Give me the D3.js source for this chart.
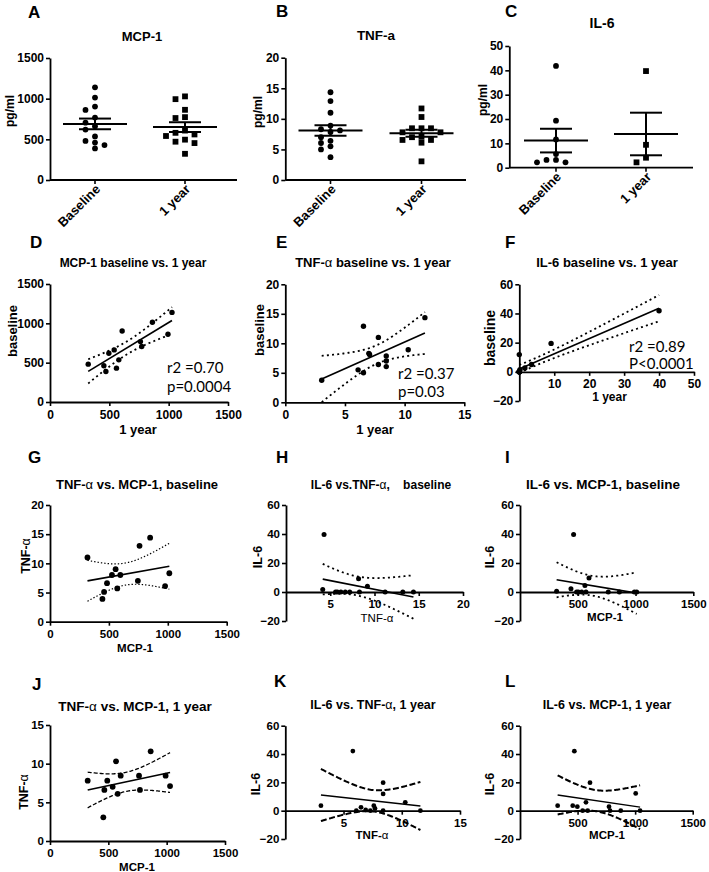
<!DOCTYPE html>
<html><head><meta charset="utf-8">
<script src="https://cdn.jsdelivr.net/npm/d3@7"></script>
<style>
body{margin:0;background:#fff}
text{font-family:"Liberation Sans",Arial,sans-serif;fill:#000}
</style>
</head><body>
<svg id="c" width="709" height="872"></svg>
<script>
// ---------------- DATA ----------------
const categories = ["Baseline", "1 year"];
const dotTitles = ["MCP-1", "TNF-a", "IL-6"];
// paired MCP-1 values (A, D)
const mcp1Baseline = [481, 460, 388, 620, 662, 536, 430, 903, 768, 705, 1013, 861, 1139];
const mcp1Year     = [322, 454, 471, 496, 541, 580, 560, 608, 762, 773, 863, 994, 1028];
// paired TNF-α values (B, E)
const tnfBaseline = [3.73, 5.5, 5.0, 12.9, 8.1, 8.3, 11.0, 6.4, 7.85, 7.0, 6.05, 8.9, 14.35];
const tnfYear     = [3.05, 6.1, 6.55, 6.55, 7.06, 7.0, 7.8, 7.8, 8.46, 8.46, 8.46, 10.3, 11.7];
// IL-6 detectable values (C)
const il6Baseline = [41.8, 19.3, 11.6, 5.6, 2.2, 3.2, 2.2, 3.2];
const il6Year     = [39.7, 9.4, 4.1, 2.2];
// F: IL-6 baseline vs 1 year
const fYear = [40, 9.1, 3.5, 1.6, 0.2, 0, 0, 0, 0, 0, 0, 0, 0];
const fBase = [41.9, 19.5, 5.0, 2.7, 1.5, 11.8, 0, 0, 0, 0, 0, 0, 0];
// G: TNF-α vs MCP-1, baseline
const gMcp = [318, 445, 459, 484, 526, 557, 571, 597, 746, 760, 850, 977, 1013];
const gTnf = [11, 3.9, 5.1, 6.6, 8, 9, 5.7, 8, 7, 13, 14.4, 6.1, 8.3];
// H: IL-6 vs TNF-α, baseline
const hTnf = [4.15, 4.3, 5.6, 5.8, 6.2, 6.7, 7.2, 8.2, 8.3, 9.2, 11.2, 13.2, 14.4];
const hIl6 = [1.8, 39.7, 0, 0, 0, 0, 0, 9.2, 0, 3.9, 0, 0, 0];
// I: IL-6 vs MCP-1, baseline
const iMcp = [317, 441, 464, 490, 505, 534, 562, 571, 597, 764, 860, 990, 1010];
const iIl6 = [0.5, 2.3, 39.7, 0, 0, 0, 4.4, 0, 9.7, 0, 0, 0, 0];
// J: TNF-α vs MCP-1, 1 year
const jMcp = [323, 457, 466, 491, 537, 566, 580, 606, 763, 771, 863, 991, 1029];
const jTnf = [7.8, 3.06, 6.6, 7.8, 7.0, 10.3, 6.1, 8.45, 8.45, 6.6, 11.6, 8.45, 7.1];
// K: IL-6 vs TNF-α, 1 year
const kTnf = [3.06, 5.8, 6.1, 6.5, 6.9, 7.3, 7.6, 7.7, 8.4, 8.4, 8.4, 10.3, 11.6];
const kIl6 = [3.5, 42.1, 0, 2.4, 0.5, 0, 3.5, 1.6, 19.8, 11.8, 0, 5.9, 0];
// L: IL-6 vs MCP-1, 1 year
const lMcp = [327, 458, 472, 498, 544, 573, 588, 608, 773, 782, 875, 1005, 1043];
const lIl6 = [3.5, 3.5, 42, 2.8, 0, 5.9, 0, 19.8, 2.8, 0, 0, 12.2, 0];
// statistics annotations
const statsD = ["r2 =0.70", "p=0.0004"];
const statsE = ["r2 =0.37", "p=0.03"];
const statsF = ["r2 =0.89", "P<0.0001"];

// ---------------- HELPERS ----------------
const svg = d3.select("#c");
const tTable = {4:2.776,5:2.571,6:2.447,7:2.365,8:2.306,9:2.262,10:2.228,11:2.201,12:2.179,13:2.160};
const fmt = d3.format("d");

function addText(g, str, x, y, o) {
  const t = g.append("text").attr("x", x).attr("y", y)
    .attr("font-size", o.size).attr("font-weight", o.weight || "bold")
    .attr("text-anchor", o.anchor || "middle");
  if (o.family) t.style("font-family", o.family);
  if (o.rotate) t.attr("transform", `rotate(${o.rotate},${x},${y})`);
  if (o.dy) t.attr("dy", o.dy);
  t.style("white-space", "pre");
  str.split(/(α)/).forEach(p => {
    if (!p) return;
    const ts = t.append("tspan").text(p);
    if (p === "α") ts.attr("font-weight", "normal");
  });
  return t;
}

function styleAxis(a, size) {
  a.select(".domain").attr("stroke-width", 1.8);
  a.selectAll(".tick line").attr("stroke-width", 1.6);
  a.selectAll("text").attr("font-size", size).attr("font-weight", "bold")
    .style("font-family", '"Liberation Sans",Arial,sans-serif');
}

function yAxis(g, y, x0, ticks, size) {
  const a = g.append("g").attr("transform", `translate(${x0},0)`)
    .call(d3.axisLeft(y).tickValues(ticks).tickFormat(fmt).tickSize(4).tickPadding(2).tickSizeOuter(0));
  styleAxis(a, size);
}

function swarm(values, y, sep) {
  const pts = values.map(v => ({v, y: y(v)})).sort((a, b) => b.v - a.v);
  const placed = [];
  const cands = [0];
  for (let k = 1; k < 12; k++) cands.push(-k * sep / 2, k * sep / 2);
  pts.forEach(p => {
    for (const dx of cands) {
      if (placed.every(q => Math.abs(q.dx - dx) >= sep - 0.5 || Math.abs(q.y - p.y) >= 5.5)) { p.dx = dx; break; }
    }
    placed.push(p);
  });
  return pts;
}

function fit(xs, ys) {
  const n = xs.length, mx = d3.mean(xs), my = d3.mean(ys);
  let sxx = 0, sxy = 0;
  xs.forEach((x, i) => { sxx += (x - mx) ** 2; sxy += (x - mx) * (ys[i] - my); });
  const b = sxy / sxx, a = my - b * mx;
  let sse = 0;
  xs.forEach((x, i) => { sse += (ys[i] - a - b * x) ** 2; });
  const s = Math.sqrt(sse / (n - 2)), t = tTable[n - 2] || 2.2;
  return {a, b, band: x => t * s * Math.sqrt(1 / n + (x - mx) ** 2 / sxx)};
}

// ---------------- DOT PLOTS (A-C) ----------------
function dotPanel(c) {
  const g = svg.append("g");
  const y = d3.scaleLinear().domain(c.yDomain).range(c.yRange);
  const x = d3.scalePoint().domain(categories).range(c.catRange).padding(0.5);
  yAxis(g, y, c.x0, c.yTicks, 12);
  g.append("line").attr("x1", c.x0).attr("x2", c.x1).attr("y1", y(0)).attr("y2", y(0))
    .attr("stroke", "#000").attr("stroke-width", 1.8);
  categories.forEach(cat => {
    g.append("line").attr("x1", x(cat)).attr("x2", x(cat)).attr("y1", y(0)).attr("y2", y(0) + 4)
      .attr("stroke", "#000").attr("stroke-width", 1.6);
    addText(g, cat, x(cat) + 6, y(0) + 10, {size: 13, anchor: "end", rotate: -45});
  });
  [c.base, c.year].forEach((vals, i) => {
    const cx = x(categories[i]);
    const pts = swarm(vals, y, 9.5);
    if (i === 0) {
      g.selectAll(null).data(pts).enter().append("circle")
        .attr("cx", d => cx + d.dx).attr("cy", d => d.y).attr("r", 2.9).attr("fill", "#000");
    } else {
      g.selectAll(null).data(pts).enter().append("rect")
        .attr("x", d => cx + d.dx - 2.9).attr("y", d => d.y - 2.9).attr("width", 5.8).attr("height", 5.8).attr("fill", "#000");
    }
    const m = d3.mean(vals), sem = d3.deviation(vals) / Math.sqrt(vals.length);
    const ln = (x1, y1, x2, y2) => g.append("line").attr("x1", x1).attr("y1", y1).attr("x2", x2).attr("y2", y2)
      .attr("stroke", "#000").attr("stroke-width", 2);
    ln(cx - 32, y(m), cx + 32, y(m));
    ln(cx, y(m - sem), cx, y(m + sem));
    ln(cx - 16, y(m - sem), cx + 16, y(m - sem));
    ln(cx - 16, y(m + sem), cx + 16, y(m + sem));
  });
  addText(g, c.title, c.titlePos[0], c.titlePos[1], {size: c.titleSize});
  addText(g, c.label, c.labelPos[0], c.labelPos[1], {size: 17, anchor: "start"});
  addText(g, "pg/ml", c.yLabPos[0], c.yLabPos[1], {size: 12, rotate: -90, dy: "0.35em"});
}

dotPanel({label: "A", labelPos: [28, 18], title: dotTitles[0], titlePos: [142, 41], titleSize: 13,
  base: mcp1Baseline, year: mcp1Year, yDomain: [0, 1500], yRange: [180, 58], yTicks: [0, 500, 1000, 1500],
  x0: 50, x1: 237, catRange: [50, 230], yLabPos: [10, 111]});
dotPanel({label: "B", labelPos: [276, 17], title: dotTitles[1], titlePos: [376, 40], titleSize: 13.5,
  base: tnfBaseline, year: tnfYear, yDomain: [0, 20], yRange: [180, 57.7], yTicks: [0, 5, 10, 15, 20],
  x0: 285.3, x1: 466, catRange: [285, 467], yLabPos: [258, 112]});
dotPanel({label: "C", labelPos: [505, 17], title: dotTitles[2], titlePos: [602, 28], titleSize: 14,
  base: il6Baseline, year: il6Year, yDomain: [0, 50], yRange: [167.7, 46], yTicks: [0, 10, 20, 30, 40, 50],
  x0: 509.3, x1: 693, catRange: [511, 691], yLabPos: [483, 100]});

// ---------------- SCATTER PANELS (D-L) ----------------
function scatterPanel(c) {
  const g = svg.append("g");
  const x = d3.scaleLinear().domain(c.xDomain).range(c.xRange);
  const y = d3.scaleLinear().domain(c.yDomain).range(c.yRange);
  const tick = c.tickSize || 11.5;
  yAxis(g, y, c.xRange[0], c.yTicks, tick);
  const ax = g.append("g").attr("transform", `translate(0,${y(0)})`)
    .call(d3.axisBottom(x).tickValues(c.xTicks).tickFormat(fmt).tickSize(4).tickPadding(4).tickSizeOuter(0));
  styleAxis(ax, tick);

  const id = "clip" + c.label;
  svg.append("clipPath").attr("id", id).append("rect")
    .attr("x", c.xRange[0]).attr("y", c.yRange[1])
    .attr("width", c.xRange[1] - c.xRange[0]).attr("height", c.yRange[0] - c.yRange[1]);
  const f = fit(c.xs, c.ys);
  const x0 = d3.min(c.xs), x1 = d3.max(c.xs);
  const xsS = d3.range(0, 81).map(i => x0 + (x1 - x0) * i / 80);
  const line = d3.line().x(d => x(d[0])).y(d => y(d[1]));
  const pg = g.append("g").attr("clip-path", `url(#${id})`);
  [1, -1].forEach(sg => {
    pg.append("path").datum(xsS.map(v => [v, f.a + f.b * v + sg * f.band(v)])).attr("d", line)
      .attr("fill", "none").attr("stroke", "#000").attr("stroke-width", c.bandW)
      .attr("stroke-dasharray", c.bandDash);
  });
  pg.append("path").datum([[x0, f.a + f.b * x0], [x1, f.a + f.b * x1]]).attr("d", line)
    .attr("fill", "none").attr("stroke", "#000").attr("stroke-width", c.lineW || 1.7);
  g.selectAll(null).data(c.xs.map((v, i) => [v, c.ys[i]])).enter().append("circle")
    .attr("cx", d => x(d[0])).attr("cy", d => y(d[1])).attr("r", c.r || 2.7).attr("fill", "#000");

  addText(g, c.title, c.titlePos[0], c.titlePos[1], {size: c.titleSize});
  addText(g, c.label, c.labelPos[0], c.labelPos[1], {size: 17, anchor: "start"});
  addText(g, c.yLab, c.yLabPos[0], c.yLabPos[1], {size: c.yLabSize || 12.5, rotate: -90, dy: "0.35em"});
  addText(g, c.xLab, c.xLabPos[0], c.xLabPos[1], {size: c.xLabSize || 11.5, weight: c.xLabWeight || "bold"});
  if (c.stats) {
    c.stats.forEach((s, i) => addText(g, s, c.statsPos[0], c.statsPos[1] + i * c.statsGap,
      {size: 15, weight: "normal", anchor: "start", family: "Lato, 'Open Sans', sans-serif"}));
  }
}

const dotted = "2,3.2", fine = "1.4,2", dashed = "4,2", bigDash = "6,2.5";

scatterPanel({label: "D", labelPos: [30, 248], title: "MCP-1 baseline vs. 1 year", titlePos: [133, 267], titleSize: 12,
  xs: mcp1Year, ys: mcp1Baseline, xDomain: [0, 1500], xRange: [50, 228], yDomain: [0, 1500], yRange: [402, 284],
  xTicks: [0, 500, 1000, 1500], yTicks: [0, 500, 1000, 1500], tickSize: 12,
  yLab: "baseline", yLabPos: [12, 331], yLabSize: 13, xLab: "1 year", xLabPos: [138, 434], xLabSize: 13,
  bandW: 1.8, bandDash: dotted, stats: statsD, statsPos: [167, 373], statsGap: 19});
scatterPanel({label: "E", labelPos: [276, 248], title: "TNF-α baseline vs. 1 year", titlePos: [373, 267], titleSize: 13,
  xs: tnfYear, ys: tnfBaseline, xDomain: [0, 15], xRange: [285.3, 464.3], yDomain: [0, 20], yRange: [402.3, 284.3],
  xTicks: [0, 5, 10, 15], yTicks: [0, 5, 10, 15, 20], tickSize: 12,
  yLab: "baseline", yLabPos: [259, 330], yLabSize: 13, xLab: "1 year", xLabPos: [375, 434], xLabSize: 13,
  bandW: 1.8, bandDash: dotted, stats: statsE, statsPos: [398, 379], statsGap: 17.5});
scatterPanel({label: "F", labelPos: [505, 248], title: "IL-6 baseline vs. 1 year", titlePos: [607, 267], titleSize: 13,
  xs: fYear, ys: fBase, xDomain: [0, 50], xRange: [519.3, 694], yDomain: [-20, 60], yRange: [401, 284.3],
  xTicks: [10, 20, 30, 40, 50], yTicks: [-20, 0, 20, 40, 60], tickSize: 12,
  yLab: "baseline", yLabPos: [490, 338], yLabSize: 14, xLab: "1 year", xLabPos: [609.5, 401], xLabSize: 12,
  bandW: 1.8, bandDash: dotted, stats: statsF, statsPos: [629, 351.5], statsGap: 17});

scatterPanel({label: "G", labelPos: [28, 463], title: "TNF-α vs. MCP-1, baseline", titlePos: [137, 489], titleSize: 13,
  xs: gMcp, ys: gTnf, xDomain: [0, 1500], xRange: [50, 226.7], yDomain: [0, 20], yRange: [621.7, 505],
  xTicks: [0, 500, 1000, 1500], yTicks: [0, 5, 10, 15, 20],
  yLab: "TNF-α", yLabPos: [26, 556], xLab: "MCP-1", xLabPos: [135, 652], r: 2.9,
  bandW: 1.2, bandDash: fine});
scatterPanel({label: "H", labelPos: [276, 463], title: "IL-6 vs.TNF-α,    baseline", titlePos: [381, 489], titleSize: 12,
  xs: hTnf, ys: hIl6, xDomain: [0, 20], xRange: [286, 463], yDomain: [-20, 60], yRange: [621, 505],
  xTicks: [5, 10, 15, 20], yTicks: [-20, 0, 20, 40, 60],
  yLab: "IL-6", yLabPos: [258, 557], xLab: "TNF-α", xLabPos: [377, 622], xLabWeight: "normal",
  bandW: 1.8, bandDash: dotted, r: 2.5});
scatterPanel({label: "I", labelPos: [505, 463], title: "IL-6 vs. MCP-1, baseline", titlePos: [603, 489], titleSize: 13.5,
  xs: iMcp, ys: iIl6, xDomain: [0, 1500], xRange: [520, 693.3], yDomain: [-20, 60], yRange: [621, 505],
  xTicks: [500, 1000, 1500], yTicks: [-20, 0, 20, 40, 60],
  yLab: "IL-6", yLabPos: [490, 557], xLab: "MCP-1", xLabPos: [605, 621],
  bandW: 1.8, bandDash: dotted, r: 2.5});

scatterPanel({label: "J", labelPos: [32, 690], title: "TNF-α vs. MCP-1, 1 year", titlePos: [135, 711], titleSize: 13.5,
  xs: jMcp, ys: jTnf, xDomain: [0, 1500], xRange: [50, 225], yDomain: [0, 15], yRange: [841, 725],
  xTicks: [0, 500, 1000, 1500], yTicks: [0, 5, 10, 15],
  yLab: "TNF-α", yLabPos: [24, 792], xLab: "MCP-1", xLabPos: [137, 871], r: 2.9,
  bandW: 1.3, bandDash: dashed});
scatterPanel({label: "K", labelPos: [274, 687], title: "IL-6 vs. TNF-α, 1 year", titlePos: [373, 709], titleSize: 12.5,
  xs: kTnf, ys: kIl6, xDomain: [0, 15], xRange: [285.3, 460], yDomain: [-20, 60], yRange: [839, 725.7],
  xTicks: [5, 10, 15], yTicks: [-20, 0, 20, 40, 60],
  yLab: "IL-6", yLabPos: [256, 784], xLab: "TNF-α", xLabPos: [372, 839],
  bandW: 2, bandDash: bigDash, lineW: 1.4, r: 2.4});
scatterPanel({label: "L", labelPos: [505, 687], title: "IL-6 vs. MCP-1, 1 year", titlePos: [607, 709], titleSize: 12.5,
  xs: lMcp, ys: lIl6, xDomain: [0, 1500], xRange: [520, 692.7], yDomain: [-20, 60], yRange: [839, 725.7],
  xTicks: [500, 1000, 1500], yTicks: [-20, 0, 20, 40, 60],
  yLab: "IL-6", yLabPos: [490, 784], xLab: "MCP-1", xLabPos: [607, 839],
  bandW: 2, bandDash: bigDash, lineW: 1.4, r: 2.4});
</script>
</body></html>
